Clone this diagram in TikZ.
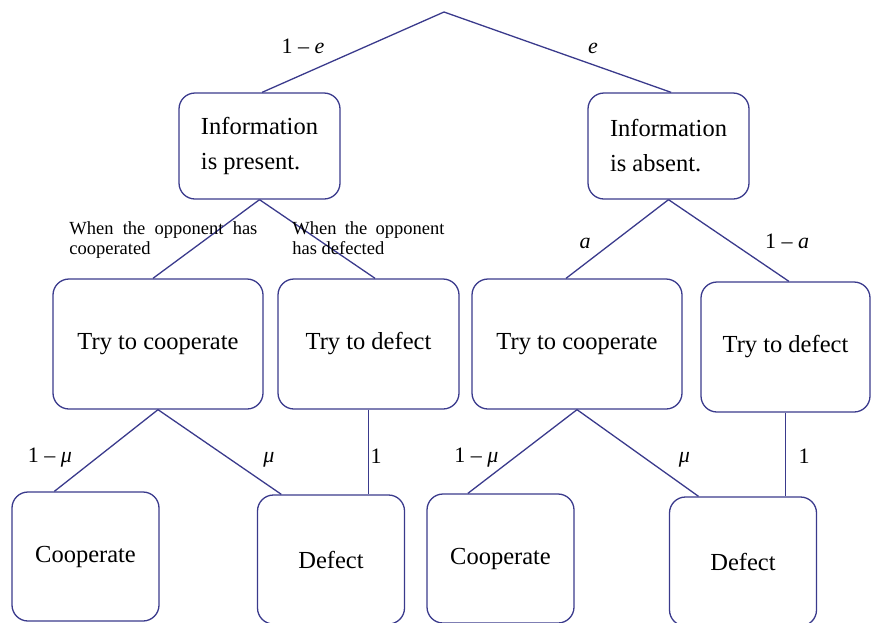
\documentclass[tikz,border=0pt]{standalone}
\usepackage{fontspec}
\setmainfont{Liberation Serif}
\usetikzlibrary{positioning, calc}
\definecolor{treeblue}{RGB}{58,58,140}
\tikzset{
  branch/.style = {draw = treeblue, line width = 0.65pt},
  box/.style = {draw = treeblue, line width = 0.65pt, rounded corners = 8pt,
    inner sep = 0pt, font = \fontsize{12.25}{17.5}\selectfont},
  info/.style = {box, align = left, minimum width = 80.5pt, minimum height = 53pt},
  action/.style = {box, minimum height = 65pt},
  outcome/.style = {box, minimum width = 73.5pt, minimum height = 64.5pt},
  prob/.style = {anchor = base, inner sep = 0pt, font = \fontsize{11}{13}\selectfont},
  condition/.style = {anchor = north west, inner sep = 0pt, align = justify,
    font = \fontsize{9.25}{10}\selectfont}
}

\begin{document}
\begin{tikzpicture}[x = 0.5pt, y = -0.5pt]
\useasboundingbox (0,0) rectangle (871,622);

%% Root
\coordinate (root) at (444,12);

%% Information
\node [info] (present) at (259.5,146) {Information\\is present.};
\node [info] (absent) at (668.5,146) {Information\\is absent.};

%% Actions
\node [action, minimum width = 105pt] (tryCoopL) at (158,344) {Try to cooperate};
\node [action, minimum width = 90.5pt] (tryDefL) at (368.5,344) {Try to defect};
\node [action, minimum width = 105pt] (tryCoopR) at (577,344) {Try to cooperate};
\node [action, minimum width = 84.5pt] (tryDefR) at (785.5,347) {Try to defect};

%% Outcomes
\node [outcome] (coopL) at (85.5,556.5) {Cooperate};
\node [outcome] (defL) at (331,559.5) {Defect};
\node [outcome] (coopR) at (500.5,558.5) {Cooperate};
\node [outcome] (defR) at (743,561.5) {Defect};

%% Branches
\path [branch] (root)
  edge ($(present.north west)!0.516!(present.north east)$)
  edge ($(absent.north west)!0.516!(absent.north east)$);
\path [branch] (present.south)
  edge ($(tryCoopL.north west)!0.476!(tryCoopL.north east)$)
  edge ($(tryDefL.north west)!0.536!(tryDefL.north east)$);
\path [branch] (absent.south)
  edge ($(tryCoopR.north west)!0.448!(tryCoopR.north east)$)
  edge ($(tryDefR.north west)!0.52!(tryDefR.north east)$);
\path [branch] (tryCoopL.south)
  edge ($(coopL.north west)!0.29!(coopL.north east)$)
  edge ($(defL.north west)!0.165!(defL.north east)$);
\path [branch] (tryCoopR.south)
  edge ($(coopR.north west)!0.28!(coopR.north east)$)
  edge ($(defR.north west)!0.2!(defR.north east)$);
\path [branch] (tryDefL.south) edge (tryDefL.south |- defL.north);
\path [branch] (tryDefR.south) edge (tryDefR.south |- defR.north);

%% Probabilities
\node [prob] (pPresent) at (303,53) {1 – \textit{e}};
\node [prob] (pAbsent) at (593,53) {\textit{e}};
\node [prob] (pCoopR) at (585,248) {\textit{a}};
\node [prob] (pDefR) at (787,248) {1 – \textit{a}};
\node [prob] (pCoopL) at (50,462) {1 – \textit{μ}};
\node [prob] (pErrL) at (269,462) {\textit{μ}};
\node [prob] (pDefL) at (376,463) {1};
\node [prob] (pCoopOutR) at (476.5,462) {1 – \textit{μ}};
\node [prob] (pErrR) at (684.5,462) {\textit{μ}};
\node [prob] (pDefOutR) at (804,463) {1};

%% Conditions
\node [condition, text width = 94pt] (whenCoop) at (69,221)
  {When the opponent has cooperated};
\node [condition, text width = 76pt] (whenDef) at (292,221)
  {When the opponent has defected};

\end{tikzpicture}
\end{document}
